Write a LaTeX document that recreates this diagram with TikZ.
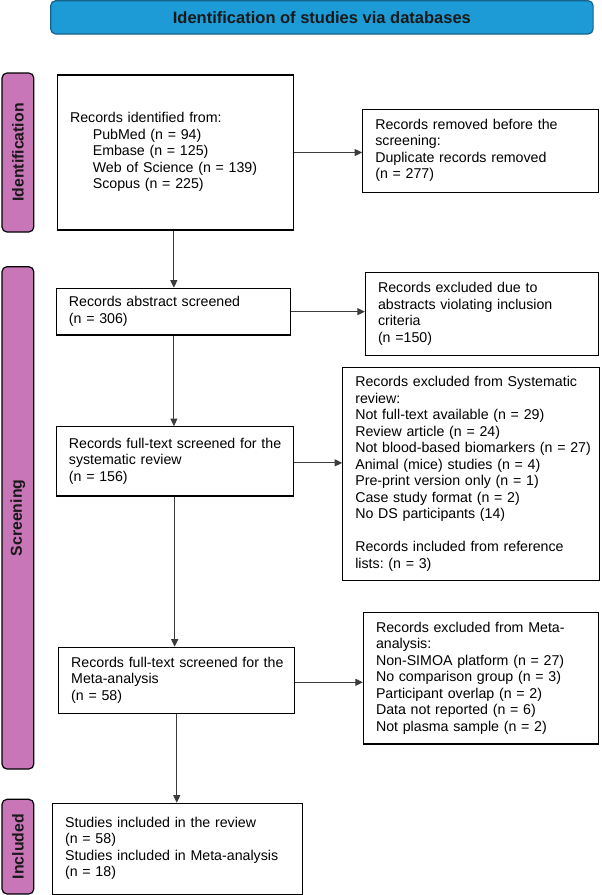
\documentclass[tikz,border=0pt]{standalone}
\usepackage{fontspec}
\setmainfont{Liberation Sans}
\usetikzlibrary{arrows.meta,calc}
\definecolor{hdrblue}{RGB}{28,155,214}
\definecolor{hdrborder}{RGB}{22,98,138}
\definecolor{barpink}{RGB}{200,118,184}
\definecolor{arrowgray}{RGB}{60,60,60}
\newcommand\blines[1]{\noindent\begin{tabular}{@{}l@{}}#1\end{tabular}}
\frenchspacing
\begin{document}
\frenchspacing
\begin{tikzpicture}[x=1pt,y=-1pt,
  box/.style={draw=black, line width=1.2pt, fill=white, inner xsep=12.5pt, inner ysep=0pt,
    align=left, font=\fontsize{14.2}{16.5}\selectfont\frenchspacing, text=black},
  phase/.style={draw=black, line width=1.2pt, fill=barpink, rounded corners=5pt,
    minimum height=31.8pt, inner sep=0pt, rotate=90,
    font=\bfseries\fontsize{15.8}{18}\selectfont, text=black!90},
  header/.style={draw=hdrborder, line width=1.2pt, fill=hdrblue, rounded corners=5pt,
    inner sep=0pt, font=\bfseries\fontsize{16.5}{18}\selectfont, text=black!90},
  flow/.style={draw=arrowgray, line width=0.9pt, -{Triangle[length=7.5pt,width=7pt]}}]
\useasboundingbox (0,0) rectangle (602,895);

% header
\node[header, minimum width=542.4pt, minimum height=33.3pt] (hdr) at (321.9,17.35)
  {Identification of studies via databases};

% phase bars
\node[phase, minimum width=159pt] (pident) at (17.9,152.5) {Identification};
\node[phase, minimum width=502.3pt] (pscreen) at (17.9,517.85) {Screening};
\node[phase, minimum width=94.7pt] (pincl) at (17.9,846.65) {Included};

% main boxes
\node[box, minimum width=236.1pt, text width=211.1pt, minimum height=155pt] (b1) at (175.65,152.5)
  {\blines{Records identified from:\\
  \hspace*{22.7pt}PubMed (n = 94)\\
  \hspace*{22.7pt}Embase (n = 125)\\
  \hspace*{22.7pt}Web of Science (n = 139)\\
  \hspace*{22.7pt}Scopus (n = 225)}};
\node[box, minimum width=234.2pt, text width=209.2pt, minimum height=46.7pt] (b2) at (173.5,311.65)
  {\blines{Records abstract screened\\(n = 306)}};
\node[box, minimum width=237.3pt, text width=212.3pt, minimum height=69.3pt] (b3) at (175.05,461.35)
  {\blines{Records full-text screened for the\\systematic review\\(n = 156)}};
\node[box, minimum width=236.1pt, text width=211.1pt, minimum height=66pt] (b4) at (176.75,680.3)
  {\blines{Records full-text screened for the\\Meta-analysis\\(n = 58)}};
\node[box, minimum width=249.9pt, text width=224.9pt, minimum height=91pt] (b5) at (177.55,848.8)
  {\blines{Studies included in the review\\(n = 58)\\Studies included in Meta-analysis\\(n = 18)}};

% side boxes
\node[box, minimum width=236pt, text width=211pt, minimum height=83pt] (r1) at (480.8,150.8)
  {\blines{Records removed before the\\screening:\\Duplicate records removed\\(n = 277)}};
\node[box, minimum width=233.3pt, text width=208.3pt, minimum height=83pt] (r2) at (482.15,314.2)
  {\blines{Records excluded due to\\abstracts violating inclusion\\criteria\\(n =150)}};
\node[box, minimum width=256.8pt, text width=231.8pt, minimum height=213.4pt] (r3) at (471.2,474)
  {\blines{Records excluded from Systematic\\review:\\Not full-text available (n = 29)\\Review article (n = 24)\\Not blood-based biomarkers (n = 27)\\Animal (mice) studies (n = 4)\\Pre-print version only (n = 1)\\Case study format (n = 2)\\No DS participants (14)\\ \\Records included from reference\\lists: (n = 3)}};
\node[box, minimum width=235.3pt, text width=210.3pt, minimum height=131.3pt] (r4) at (481.15,678.35)
  {\blines{Records excluded from Meta-\\analysis:\\Non-SIMOA platform (n = 27)\\No comparison group (n = 3)\\Participant overlap (n = 2)\\Data not reported (n = 6)\\Not plasma sample (n = 2)}};

% connectors
\draw[flow] ([xshift=-1.8pt]b1.south) -- ([xshift=-1.8pt]b1.south |- b2.north);
\draw[flow] ([xshift=0.4pt]b2.south) -- ([xshift=0.4pt]b2.south |- b3.north);
\draw[flow] ([xshift=-0.4pt]b3.south) -- ([xshift=-0.4pt]b3.south |- b4.north);
\draw[flow] (b4.south) -- (b4.south |- b5.north);
\draw[flow] (b1.east) -- (b1.east -| r1.west);
\draw[flow] (b2.east) -- (b2.east -| r2.west);
\draw[flow] ([yshift=-1.5pt]b3.east) -- ([yshift=-1.5pt]b3.east -| r3.west);
\draw[flow] ([yshift=-2pt]b4.east) -- ([yshift=-2pt]b4.east -| r4.west);
\end{tikzpicture}
\end{document}
